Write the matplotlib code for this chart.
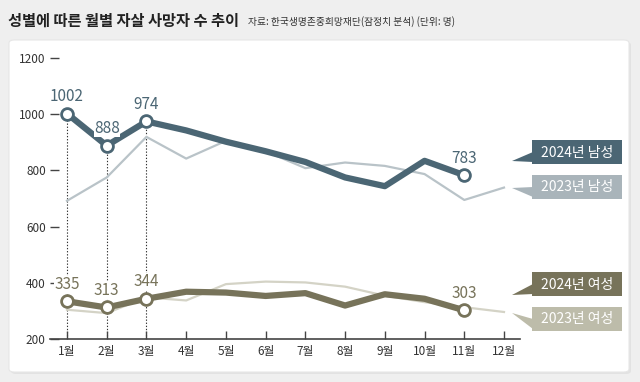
import matplotlib
matplotlib.use("Agg")
import matplotlib.pyplot as plt
from matplotlib.patches import FancyBboxPatch, Rectangle, Polygon

plt.rcParams['font.family'] = ['Noto Sans CJK KR', 'DejaVu Sans']

# Data
months = list(range(1, 13))
month_labels = [f"{m}월" for m in months]
male_2024 = [1002, 888, 974, 942, 902, 868, 830, 775, 744, 834, 783]
male_2023 = [692, 775, 919, 842, 905, 868, 808, 828, 816, 787, 695, 739]
female_2024 = [335, 313, 344, 369, 366, 354, 364, 320, 360, 344, 303]
female_2023 = [305, 293, 349, 338, 396, 405, 402, 387, 355, 332, 314, 297]
labeled_idx = [0, 1, 2, 10]

c_m24 = '#4b6674'
c_m23 = '#b9c3c8'
c_m23_box = '#a9b4ba'
c_f24 = '#77735a'
c_f23 = '#d4d3c6'
c_f23_box = '#bdbcaa'

W, H = 640, 382
fig = plt.figure(figsize=(6.4, 3.82), dpi=100)
fig.patch.set_facecolor('#efefef')


def px(x, y):
    # figure pixel (from top-left) -> figure fraction
    return x / W, 1 - y / H


# white panel with a soft shadow
fig.patches.append(FancyBboxPatch(px(11, 374), 620 / W, 332 / H,
                                  boxstyle="round,pad=0,rounding_size=0.008",
                                  transform=fig.transFigure, fc='#e2e2e2', ec='none', zorder=-2))
fig.patches.append(FancyBboxPatch(px(9, 372), 620 / W, 332 / H,
                                  boxstyle="round,pad=0,rounding_size=0.008",
                                  transform=fig.transFigure, fc='white', ec='#e6e6e6', lw=0.8, zorder=-1))

# titles
fig.text(*px(8, 21), "성별에 따른 월별 자살 사망자 수 추이", fontsize=11, fontweight='bold',
         color='#222222', va='center', ha='left')
fig.text(*px(248, 22), "자료: 한국생명존중희망재단(잠정치 분석) (단위: 명)", fontsize=7,
         color='#333333', va='center', ha='left')

ax = fig.add_axes([50 / W, 1 - 339.3 / H, 470 / W, (339.3 - 57.8) / H])
ax.set_zorder(1)
ax.set_facecolor('none')
ax.set_xlim(1 - 17 / 39.73, 12 + 16 / 39.73)
ax.set_ylim(200, 1200)

# dotted guides for the first three months
ax.vlines(months[:3], 200, male_2024[:3], colors='#333333', linestyles=(0, (1.2, 1.6)),
          lw=0.8, zorder=1)

# 2023 lines (background)
ax.plot(months, male_2023, color=c_m23, lw=1.6, zorder=2)
ax.plot(months, female_2023, color=c_f23, lw=1.6, zorder=2)

# 2024 lines
n24 = len(male_2024)
ax.plot(months[:n24], male_2024, color=c_m24, lw=4.5, zorder=4, solid_capstyle='round',
        solid_joinstyle='round')
ax.plot(months[:n24], female_2024, color=c_f24, lw=4.5, zorder=4, solid_capstyle='round',
        solid_joinstyle='round')

for series, col in [(male_2024, c_m24), (female_2024, c_f24)]:
    xs = [months[i] for i in labeled_idx]
    ys = [series[i] for i in labeled_idx]
    ax.plot(xs, ys, 'o', ms=8.5, mfc='white', mec=col, mew=2, zorder=5)
    for x, y in zip(xs, ys):
        ax.annotate(str(y), (x, y), xytext=(0, 6), textcoords='offset points',
                    ha='center', va='bottom', fontsize=11, color=col, zorder=6,
                    bbox=dict(fc='white', ec='none', pad=0.05))

# axes styling
for s in ['top', 'right', 'left']:
    ax.spines[s].set_visible(False)
ax.spines['bottom'].set_color('#444444')
ax.spines['bottom'].set_linewidth(1.2)
ax.set_yticks([200, 400, 600, 800, 1000, 1200])
ax.set_xticks(months)
ax.set_xticklabels(month_labels)
ax.tick_params(axis='y', direction='in', length=6.5, width=1, color='#444444',
               labelsize=8.5, labelcolor='#333333', pad=3)
ax.tick_params(axis='x', direction='in', length=6, width=1, color='#444444',
               labelsize=8.5, labelcolor='#333333', pad=4)

# legend boxes with pointers (figure pixel layout)
legend_items = [
    ("2024년 남성", c_m24, 140, (512, 161)),
    ("2023년 남성", c_m23_box, 175, (512, 188)),
    ("2024년 여성", c_f24, 272, (512, 295)),
    ("2023년 여성", c_f23_box, 307, (512, 313)),
]
for label, col, top, tip in legend_items:
    x0, y0 = px(532, top + 24)
    fig.patches.append(Rectangle((x0, y0), 90 / W, 24 / H, transform=fig.transFigure,
                                 fc=col, ec='none', zorder=3))
    fig.text(*px(577, top + 12.5), label, color='white', fontsize=10,
             ha='center', va='center', zorder=4)
    fig.patches.append(Polygon([px(533, top + 12), px(533, top + 22), px(*tip)],
                               closed=True, transform=fig.transFigure, fc=col, ec='none', zorder=3))

fig.savefig('out.png', dpi=100, facecolor=fig.get_facecolor())
